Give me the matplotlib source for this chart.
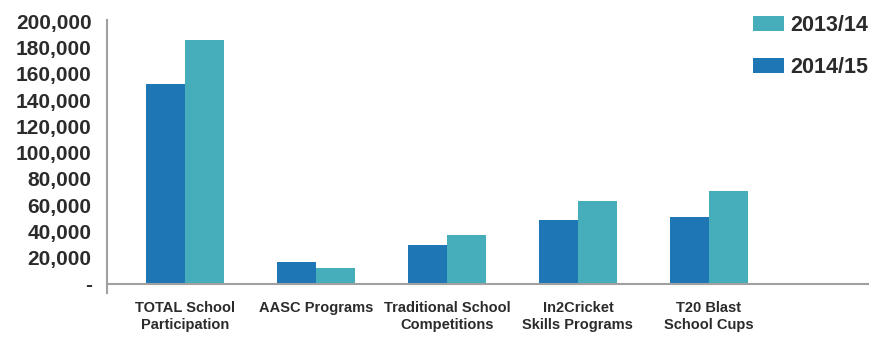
import matplotlib.pyplot as plt
import numpy as np
from matplotlib.ticker import FuncFormatter

# Values
CATEGORIES = [
    "TOTAL School\nParticipation",
    "AASC Programs",
    "Traditional School\nCompetitions",
    "In2Cricket\nSkills Programs",
    "T20 Blast\nSchool Cups",
]
VALUES_2014_15 = [152000, 16500, 29700, 49000, 51200]
VALUES_2013_14 = [185500, 12400, 37500, 62800, 70400]
Y_TICKS = [0, 20000, 40000, 60000, 80000, 100000, 120000, 140000, 160000, 180000, 200000]

DARK = "#1e76b5"
TEAL = "#46aebb"
TEXT = "#2b2b2b"
SPINE = "#a0a0a0"

plt.rcParams["font.family"] = ["Liberation Sans", "DejaVu Sans"]

fig = plt.figure(figsize=(8.7, 3.37), dpi=100)
ax = fig.add_axes([0.123, 0.132, 0.877, 0.809])

x = np.arange(len(CATEGORIES))
w = 0.295
b1 = ax.bar(x - w / 2, VALUES_2014_15, width=w, color=DARK, label="2014/15", zorder=2)
b2 = ax.bar(x + w / 2, VALUES_2013_14, width=w, color=TEAL, label="2013/14", zorder=2)

ax.set_xlim(-0.595, 5.23)
ax.set_ylim(-6500, 201000)

for s in ["top", "right"]:
    ax.spines[s].set_visible(False)
ax.spines["bottom"].set_position(("data", 0))
ax.spines["left"].set_color(SPINE)
ax.spines["bottom"].set_color(SPINE)
ax.spines["left"].set_linewidth(1.5)
ax.spines["bottom"].set_linewidth(1.5)

ax.set_yticks(Y_TICKS)
ax.yaxis.set_major_formatter(FuncFormatter(lambda v, p: "-" if v == 0 else f"{int(v):,}"))
ax.tick_params(axis="y", length=0, pad=11, labelsize=15, labelcolor=TEXT)
for lbl in ax.get_yticklabels():
    lbl.set_fontweight("bold")
ax.set_yticks([0], minor=True)
ax.tick_params(axis="y", which="minor", length=6, width=1.5, color=SPINE)

ax.set_xticks(x)
ax.set_xticklabels(CATEGORIES, fontsize=10.5, fontweight="bold", color=TEXT, linespacing=1.3)
ax.tick_params(axis="x", length=0, pad=12)

leg = ax.legend(
    handles=[b2, b1],
    labels=["2013/14", "2014/15"],
    loc="upper left",
    bbox_to_anchor=(0.866, 0.955),
    bbox_transform=fig.transFigure,
    frameon=False,
    fontsize=15.5,
    handlelength=1.4,
    handleheight=0.7,
    handletextpad=0.33,
    labelspacing=0.95,
    borderpad=0,
    borderaxespad=0,
    labelcolor=TEXT,
    prop={"weight": "bold", "size": 15.5},
)

fig.savefig("out.png", dpi=100)
